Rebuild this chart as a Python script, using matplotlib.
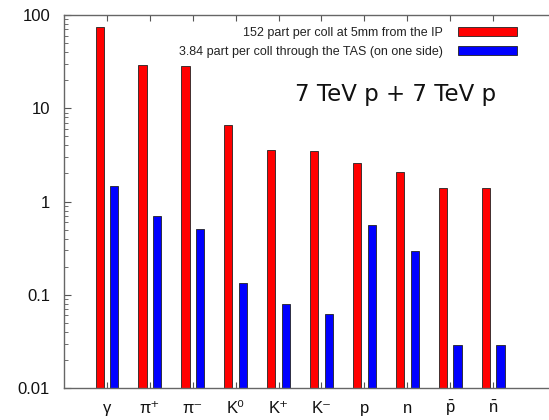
import numpy as np
import matplotlib.pyplot as plt
from matplotlib.ticker import LogLocator, NullFormatter

plt.rcParams['font.family'] = ['Liberation Sans', 'DejaVu Sans']
plt.rcParams['mathtext.fontset'] = 'custom'
plt.rcParams['mathtext.rm'] = 'Liberation Sans'
plt.rcParams['mathtext.it'] = 'Liberation Sans'

particles = ['γ', 'π⁺', 'π⁻', 'K⁰', 'K⁺', 'K⁻', 'p', 'n',
             r'$\mathregular{\bar{p}}$', r'$\mathregular{\bar{n}}$']
ip_5mm = [74, 29, 28.5, 6.6, 3.57, 3.45, 2.61, 2.06, 1.41, 1.41]
tas_side = [1.46, 0.695, 0.505, 0.134, 0.079, 0.062, 0.557, 0.296, 0.0286, 0.0286]

label_ip = '152 part per coll at 5mm from the IP'
label_tas = '3.84 part per coll through the TAS (on one side)'

W, H = 549, 420
fig = plt.figure(figsize=(W / 100, H / 100), dpi=100)
left, right, top, bottom = 64, 557.5, 15, 388
ax = fig.add_axes([left / W, (H - bottom) / H, (right - left) / W, (bottom - top) / H])

x = np.arange(len(particles))
w = 0.19
ax.bar(x - 0.17, ip_5mm, w, color='#ff0000', edgecolor='#222222', linewidth=0.6, label=label_ip)
ax.bar(x + 0.17, tas_side, w, color='#0000ff', edgecolor='#222222', linewidth=0.6, label=label_tas)

ax.set_yscale('log')
ax.set_ylim(0.01, 100)
ax.set_xlim(-1, 10.5)
ax.set_yticks([0.01, 0.1, 1, 10, 100])
ax.set_yticklabels(['0.01', '0.1', '1', '10', '100'])
ax.yaxis.set_minor_locator(LogLocator(base=10, subs=np.arange(2, 10)))
ax.yaxis.set_minor_formatter(NullFormatter())
ax.set_xticks(x)
ax.set_xticklabels(particles)
for lbl in ax.get_xticklabels():
    lbl.set_verticalalignment('baseline')

for s in ax.spines.values():
    s.set_color('#666666')
    s.set_linewidth(1.0)
ax.tick_params(axis='both', which='both', direction='in', color='#555555', labelcolor='#111111')
ax.tick_params(axis='y', which='major', length=5, labelsize=12, pad=10)
ax.tick_params(axis='y', which='minor', length=3)
ax.tick_params(axis='x', which='major', length=4, labelsize=12, pad=18, top=True)

ax.text(295 / W, 1 - 95 / H, '7 TeV p + 7 TeV p', transform=fig.transFigure, fontsize=16.5,
        family='DejaVu Sans', color='#111111', va='center', ha='left')

leg = ax.legend(loc='upper right', bbox_to_anchor=(517 / W, 1 - 27 / H), bbox_transform=fig.transFigure,
                frameon=False, markerfirst=False, fontsize=9, handlelength=4.7, handleheight=0.7,
                labelspacing=0.57, handletextpad=1.2, borderpad=0, borderaxespad=0)
for t in leg.get_texts():
    t.set_color('#222222')

fig.savefig('out.png', dpi=100)
